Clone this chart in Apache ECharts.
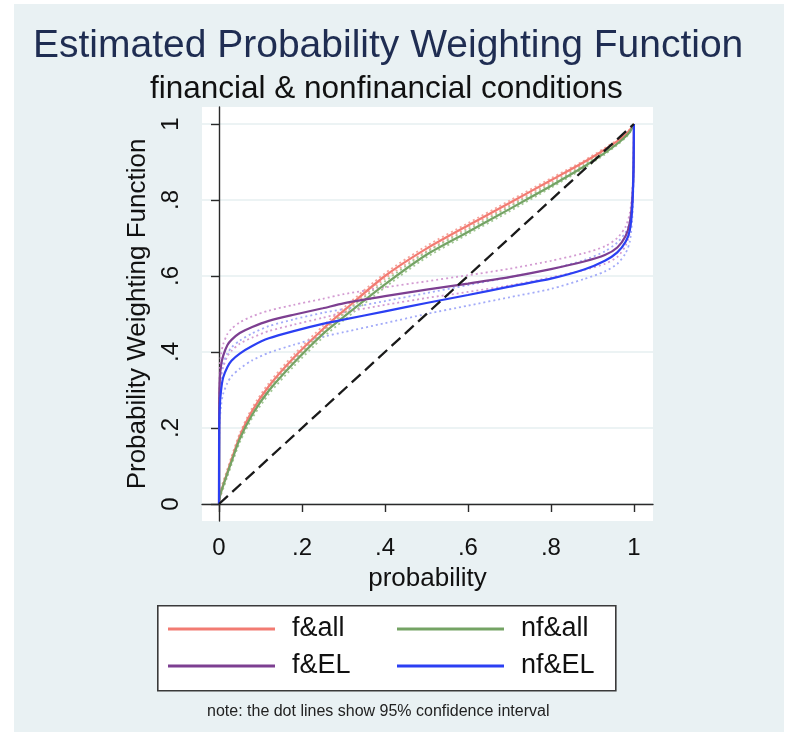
<!DOCTYPE html>
<html>
<head>
<meta charset="utf-8">
<script src="https://cdn.jsdelivr.net/npm/echarts@6/dist/echarts.min.js"></script>
<style>
html,body{margin:0;padding:0;background:#ffffff;}
#bg{position:absolute;left:14px;top:4px;width:770px;height:728px;background:#e9f1f3;}
#chart{position:absolute;left:0;top:0;width:792px;height:732px;}
</style>
</head>
<body>
<div id="bg"></div>
<div id="chart"></div>
<script>
// ---- data ----
const probability = [0, 0.0005, 0.002, 0.005, 0.01, 0.02, 0.03, 0.05, 0.08, 0.12, 0.18, 0.25, 0.3, 0.4, 0.5, 0.6, 0.7, 0.8, 0.88, 0.93, 0.96, 0.98, 0.99, 0.996, 0.999, 1];

const fAll    = [0, 0.009, 0.02, 0.034, 0.05, 0.083, 0.116, 0.178, 0.245, 0.31, 0.385, 0.46, 0.508, 0.6, 0.672, 0.733, 0.792, 0.852, 0.9, 0.933, 0.955, 0.972, 0.984, 0.993, 0.998, 1];
const fAllHi  = [0, 0.013, 0.026, 0.041, 0.058, 0.091, 0.124, 0.186, 0.253, 0.318, 0.393, 0.468, 0.516, 0.607, 0.679, 0.739, 0.798, 0.857, 0.904, 0.937, 0.958, 0.975, 0.986, 0.995, 0.999, 1];
const fAllLo  = [0, 0.005, 0.014, 0.027, 0.042, 0.075, 0.108, 0.17, 0.237, 0.302, 0.377, 0.452, 0.5, 0.593, 0.665, 0.727, 0.786, 0.847, 0.896, 0.929, 0.952, 0.969, 0.982, 0.991, 0.997, 1];

const nfAll   = [0, 0.008, 0.019, 0.032, 0.048, 0.08, 0.111, 0.171, 0.235, 0.298, 0.371, 0.447, 0.492, 0.578, 0.656, 0.716, 0.776, 0.837, 0.888, 0.924, 0.948, 0.967, 0.979, 0.99, 0.997, 1];
const nfAllHi = [0, 0.012, 0.025, 0.039, 0.056, 0.088, 0.119, 0.18, 0.244, 0.307, 0.38, 0.456, 0.501, 0.586, 0.663, 0.722, 0.782, 0.842, 0.892, 0.928, 0.951, 0.97, 0.981, 0.992, 0.998, 1];
const nfAllLo = [0, 0.004, 0.013, 0.025, 0.04, 0.072, 0.103, 0.162, 0.226, 0.289, 0.362, 0.438, 0.483, 0.57, 0.649, 0.71, 0.77, 0.832, 0.884, 0.92, 0.945, 0.964, 0.977, 0.988, 0.996, 1];

const fEL     = [0, 0.27, 0.33, 0.365, 0.39, 0.418, 0.432, 0.45, 0.466, 0.482, 0.498, 0.515, 0.528, 0.547, 0.564, 0.58, 0.597, 0.618, 0.638, 0.655, 0.675, 0.705, 0.74, 0.8, 0.88, 1];
const fELHi   = [0, 0.3, 0.36, 0.395, 0.42, 0.447, 0.461, 0.478, 0.494, 0.509, 0.524, 0.54, 0.552, 0.57, 0.586, 0.602, 0.619, 0.64, 0.66, 0.678, 0.7, 0.73, 0.765, 0.82, 0.9, 1];
const fELLo   = [0, 0.24, 0.3, 0.335, 0.36, 0.389, 0.403, 0.422, 0.438, 0.455, 0.472, 0.49, 0.504, 0.524, 0.542, 0.558, 0.575, 0.596, 0.616, 0.632, 0.65, 0.68, 0.715, 0.78, 0.86, 1];

const nfEL    = [0, 0.2, 0.26, 0.3, 0.333, 0.36, 0.377, 0.396, 0.416, 0.436, 0.455, 0.474, 0.485, 0.507, 0.529, 0.55, 0.572, 0.593, 0.617, 0.64, 0.662, 0.69, 0.72, 0.78, 0.88, 1];
const nfELHi  = [0, 0.24, 0.3, 0.34, 0.37, 0.396, 0.412, 0.43, 0.449, 0.468, 0.486, 0.503, 0.513, 0.534, 0.555, 0.576, 0.597, 0.618, 0.642, 0.665, 0.688, 0.715, 0.745, 0.8, 0.9, 1];
const nfELLo  = [0, 0.16, 0.22, 0.26, 0.29, 0.318, 0.336, 0.356, 0.378, 0.398, 0.419, 0.44, 0.452, 0.476, 0.5, 0.522, 0.544, 0.566, 0.592, 0.612, 0.632, 0.66, 0.69, 0.75, 0.85, 1];

const diagX = [0, 1];
const diagY = [0, 1];

const tickValues = [0, 0.2, 0.4, 0.6, 0.8, 1];
const tickLabels = ['0', '.2', '.4', '.6', '.8', '1'];
const legendNames = ['f&all', 'nf&all', 'f&EL', 'nf&EL'];
// ------------------------------------------------

const FONT = 'Liberation Sans, Arial, Helvetica, sans-serif';
const pairs = (xs, ys) => xs.map((x, i) => [x, ys[i]]);
const fmt = v => {
  const i = tickValues.findIndex(t => Math.abs(t - v) < 1e-9);
  return i >= 0 ? tickLabels[i] : '';
};

const colors = {
  'f&all': '#f27b72', 'nf&all': '#74a364', 'f&EL': '#7d3f91', 'nf&EL': '#2b3ff3'
};
const ciColors = {
  'f&all': '#f5a49c', 'nf&all': '#a3c895', 'f&EL': '#d39bd2', 'nf&EL': '#a3abf8'
};
const SMOOTH = 0.25;

function ci(name, arr) {
  return {
    name: name + ' ci', type: 'line', data: pairs(probability, arr),
    showSymbol: false, symbol: 'none', smooth: SMOOTH,
    lineStyle: { color: ciColors[name], width: 1.8, type: [2, 3] },
    silent: true, z: 2
  };
}
function main(name, arr) {
  return {
    name: name, type: 'line', data: pairs(probability, arr),
    showSymbol: false, symbol: 'none', smooth: SMOOTH,
    itemStyle: { color: colors[name] },
    lineStyle: { color: colors[name], width: 2.2 },
    silent: true, z: 3
  };
}

const chart = echarts.init(document.getElementById('chart'), null, { renderer: 'canvas' });
const option = {
  backgroundColor: 'transparent',
  animation: false,
  title: [
    { text: 'Estimated Probability Weighting Function', left: 33, top: 27, padding: 0,
      textStyle: { fontFamily: FONT, fontSize: 39, fontWeight: 'normal', color: '#1f2d52' } },
    { text: 'financial & nonfinancial conditions', left: 150, top: 73, padding: 0,
      textStyle: { fontFamily: FONT, fontSize: 31.5, fontWeight: 'normal', color: '#111111' } },
    { text: 'note: the dot lines show 95% confidence interval', left: 207, top: 704, padding: 0,
      textStyle: { fontFamily: FONT, fontSize: 16, fontWeight: 'normal', color: '#222222' } }
  ],
  graphic: [
    { type: 'rect', left: 157, top: 605, z: 1,
      shape: { width: 458, height: 85 },
      style: { fill: '#ffffff', stroke: '#3a3a3a', lineWidth: 1.6 } }
  ],
  legend: [
    { data: [legendNames[0], legendNames[2]], orient: 'vertical', left: 168, top: 614, padding: 0,
      itemGap: 7, itemWidth: 107, itemHeight: 3, icon: 'rect', selectedMode: false, z: 5,
      textStyle: { fontFamily: FONT, fontSize: 27, color: '#111', lineHeight: 30, padding: [0, 0, 0, 12] } },
    { data: [legendNames[1], legendNames[3]], orient: 'vertical', left: 397, top: 614, padding: 0,
      itemGap: 7, itemWidth: 107, itemHeight: 3, icon: 'rect', selectedMode: false, z: 5,
      textStyle: { fontFamily: FONT, fontSize: 27, color: '#111', lineHeight: 30, padding: [0, 0, 0, 12] } }
  ],
  grid: { left: 202, top: 107, width: 451, height: 414, show: true, backgroundColor: '#ffffff', borderWidth: 0 },
  xAxis: {
    type: 'value', min: -0.041, max: 1.046,
    name: 'probability', nameLocation: 'middle', nameGap: 45,
    nameTextStyle: { fontFamily: FONT, fontSize: 26, color: '#111' },
    axisLine: { show: true, lineStyle: { color: '#2a2a2a', width: 1.4 } },
    axisTick: { show: true, length: 8, inside: false, customValues: tickValues, lineStyle: { color: '#2a2a2a', width: 1.4 } },
    axisLabel: { customValues: tickValues, formatter: fmt, margin: 15, fontFamily: FONT, fontSize: 24, color: '#111' },
    splitLine: { show: false }
  },
  yAxis: {
    type: 'value', min: -0.0447, max: 1.0447,
    name: 'Probability Weighting Function', nameLocation: 'middle', nameGap: 51, nameRotate: 90,
    nameTextStyle: { fontFamily: FONT, fontSize: 26, color: '#111' },
    axisLine: { show: true, lineStyle: { color: '#2a2a2a', width: 1.4 } },
    axisTick: { show: true, length: 8, inside: false, customValues: tickValues, lineStyle: { color: '#2a2a2a', width: 1.4 } },
    axisLabel: { customValues: tickValues, formatter: fmt, rotate: 90, margin: 19, fontFamily: FONT, fontSize: 24, color: '#111' },
    splitLine: { show: true, lineStyle: { color: '#e6eff1', width: 1.5 } }
  },
  series: [
    ci('f&all', fAllHi), ci('f&all', fAllLo),
    ci('nf&all', nfAllHi), ci('nf&all', nfAllLo),
    ci('f&EL', fELHi), ci('f&EL', fELLo),
    ci('nf&EL', nfELHi), ci('nf&EL', nfELLo),
    main('f&all', fAll), main('nf&all', nfAll), main('f&EL', fEL), main('nf&EL', nfEL),
    { name: 'diagonal', type: 'line', data: pairs(diagX, diagY), showSymbol: false, symbol: 'none',
      lineStyle: { color: '#1a1a1a', width: 2.3, type: [12, 6] }, silent: true, z: 4 }
  ]
};
chart.setOption(option);
</script>
</body>
</html>
